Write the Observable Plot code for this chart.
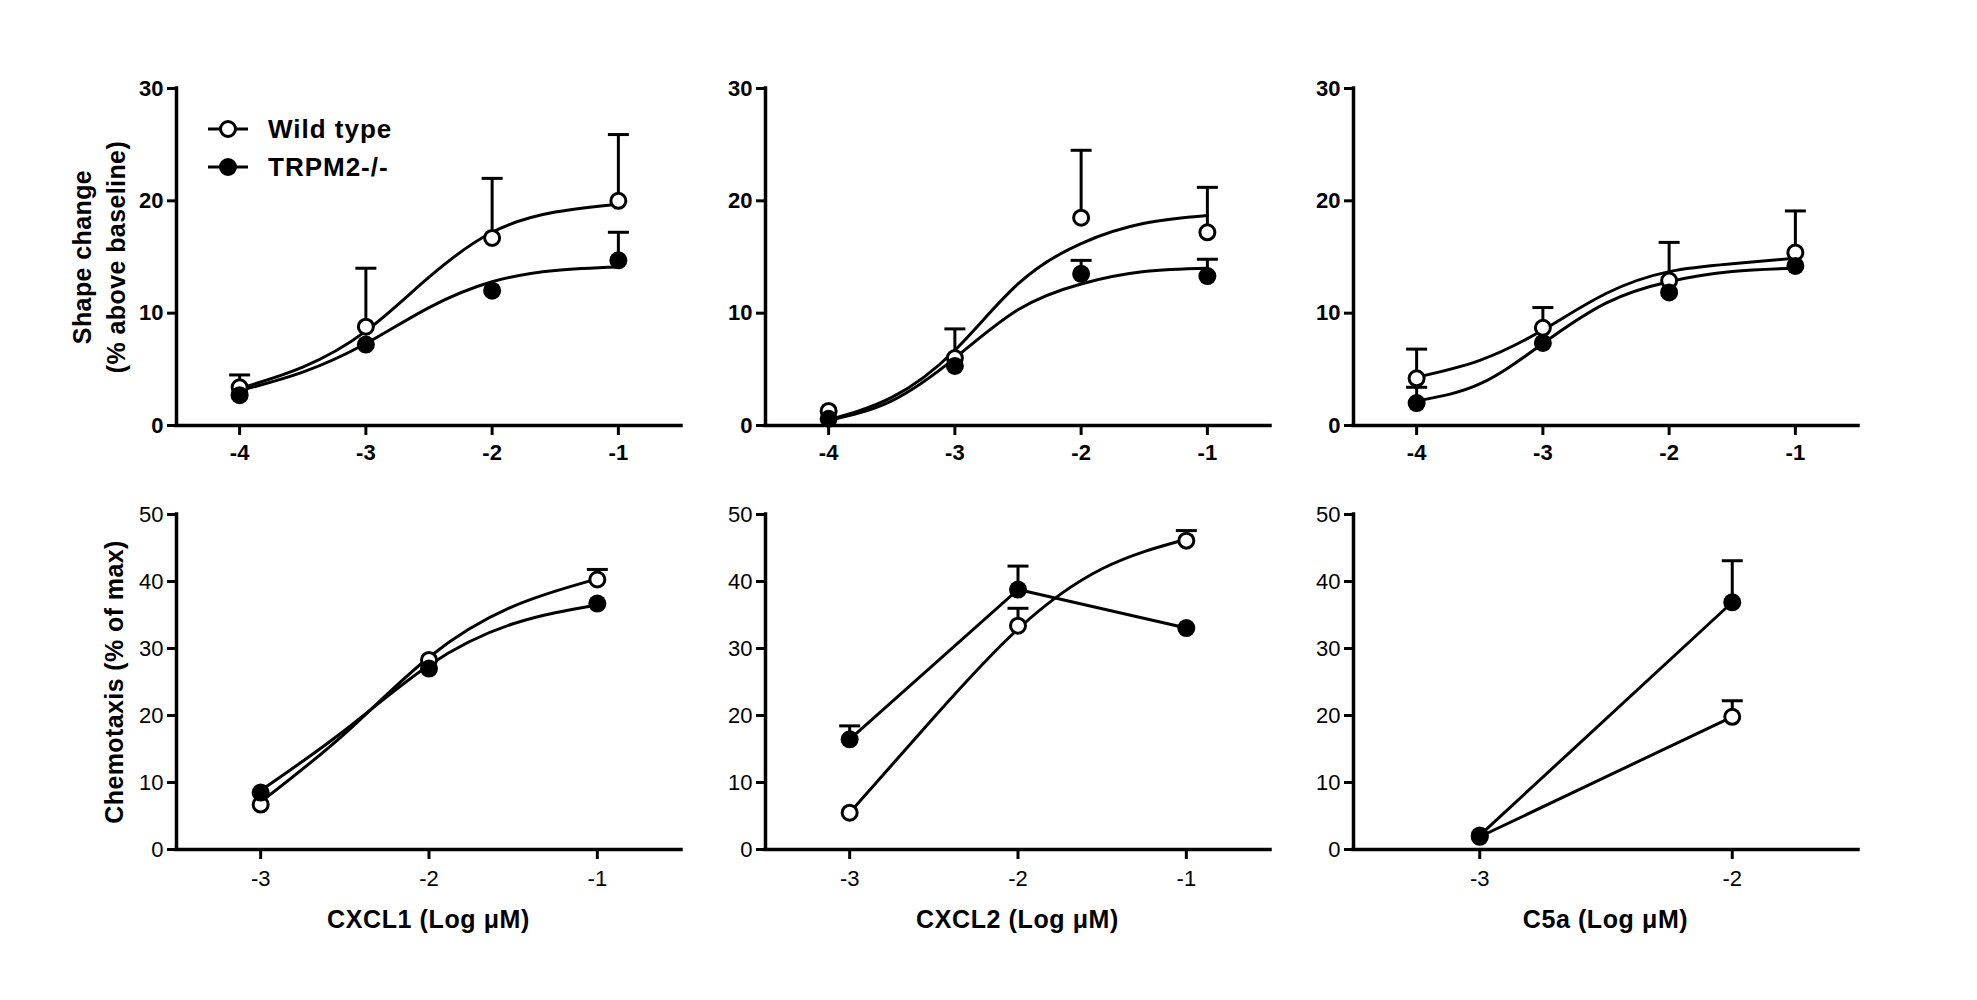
<!DOCTYPE html>
<html>
<head>
<meta charset="utf-8">
<script src="https://cdn.jsdelivr.net/npm/d3@7"></script>
<script src="https://cdn.jsdelivr.net/npm/@observablehq/plot@0.6"></script>
<style>
  html, body { margin: 0; padding: 0; background: white; }
  #page { position: relative; width: 1977px; height: 1000px; font-family: "Liberation Sans", Arial, sans-serif; color: black; overflow: hidden; }
  .panel { position: absolute; }
  .ytitle { position: absolute; transform: translate(-50%, -50%) rotate(-90deg); white-space: nowrap; text-align: center; font-weight: bold; font-size: 25px; line-height: 34px; letter-spacing: 0.4px; }
  .xtitle { position: absolute; transform: translate(-50%, -50%); white-space: nowrap; font-weight: bold; font-size: 25px; letter-spacing: 0.6px; }
  .legrow { position: absolute; display: flex; align-items: center; font-weight: bold; font-size: 26px; letter-spacing: 1px; white-space: nowrap; }
</style>
</head>
<body>
<div id="page"></div>
<script>
// ---------- data ----------
const agonists = ["CXCL1", "CXCL2", "C5a"];
const xTitles = ["CXCL1 (Log μM)", "CXCL2 (Log μM)", "C5a (Log μM)"];
const seriesNames = ["Wild type", "TRPM2-/-"];
const topYTitle = ["Shape change", "(% above baseline)"];
const bottomYTitle = "Chemotaxis (% of max)";

// Shape change (top row)
const shapeDose = [-4, -3, -2, -1];
const shapeTicksX = [-4, -3, -2, -1];
const shapeTicksY = [0, 10, 20, 30];
const shapeCurveX = [-4, -3.5, -3, -2.5, -2, -1.5, -1];

const shapeWtCxcl1 = [3.4, 8.8, 16.7, 20.0];
const shapeWtCxcl1Sem = [1.1, 5.2, 5.3, 5.9];
const shapeKoCxcl1 = [2.7, 7.2, 12.0, 14.7];
const shapeKoCxcl1Sem = [null, null, null, 2.5];
const shapeWtCxcl1Fit = [3.3, 5.2, 8.4, 13.2, 17.2, 19.0, 19.7];
const shapeKoCxcl1Fit = [3.1, 4.75, 7.3, 10.5, 12.8, 13.8, 14.1];

const shapeWtCxcl2 = [1.3, 6.0, 18.5, 17.2];
const shapeWtCxcl2Sem = [null, 2.6, 6.0, 4.0];
const shapeKoCxcl2 = [0.6, 5.3, 13.5, 13.3];
const shapeKoCxcl2Sem = [null, null, 1.2, 1.5];
const shapeWtCxcl2Fit = [0.5, 2.5, 6.7, 12.6, 16.2, 18.0, 18.7];
const shapeKoCxcl2Fit = [0.45, 2.2, 6.0, 10.3, 12.6, 13.7, 14.0];

const shapeWtC5a = [4.2, 8.7, 12.9, 15.4];
const shapeWtC5aSem = [2.6, 1.8, 3.4, 3.7];
const shapeKoC5a = [2.0, 7.35, 11.85, 14.2];
const shapeKoC5aSem = [1.4, null, null, null];
const shapeWtC5aFit = [4.3, 5.8, 8.5, 11.75, 13.7, 14.4, 14.9];
const shapeKoC5aFit = [2.2, 3.7, 7.3, 10.9, 12.8, 13.7, 14.0];

// Chemotaxis (bottom row)
const chemoTicksY = [0, 10, 20, 30, 40, 50];
const chemoDose = [-3, -2, -1];
const chemoCurveX = [-3, -2.5, -2, -1.5, -1];

const chemoWtCxcl1 = [6.7, 28.3, 40.3];
const chemoWtCxcl1Sem = [null, null, 1.5];
const chemoKoCxcl1 = [8.5, 27.0, 36.7];
const chemoKoCxcl1Sem = [null, null, null];
const chemoWtCxcl1Fit = [7.1, 17.3, 28.7, 36.3, 40.4];
const chemoKoCxcl1Fit = [8.8, 17.8, 27.5, 33.7, 36.5];

const chemoWtCxcl2 = [5.5, 33.4, 46.1];
const chemoWtCxcl2Sem = [null, 2.6, 1.5];
const chemoKoCxcl2 = [16.45, 38.8, 33.05];
const chemoKoCxcl2Sem = [2.0, 3.5, null];
const chemoWtCxcl2Fit = [5.5, 19.7, 32.9, 41.9, 46.3];

const chemoDoseC5a = [-3, -2];
const chemoWtC5a = [1.9, 19.8];
const chemoWtC5aSem = [null, 2.4];
const chemoKoC5a = [2.1, 36.9];
const chemoKoC5aSem = [null, 6.2];

// ---------- layout ----------
const colLeft = [176, 765, 1353];
const plotW = 505;
const rowTop = [88, 514];
const rowH = [337, 335];
const ML = 70, MR = 14, MT = 20, MB = 60;
const FONT = "'Liberation Sans', Arial, sans-serif";

const page = document.getElementById("page");

const capSymbol = {
  draw(context, size) {
    const w = Math.sqrt(size / Math.PI);
    context.moveTo(-w, 0);
    context.lineTo(w, 0);
  }
};

function rows(xs, ys) { return xs.map((x, i) => ({x, y: ys[i]})); }
function errRows(xs, ys, sems) {
  return xs.map((x, i) => ({x, y: ys[i], top: sems[i] == null ? NaN : ys[i] + sems[i]}))
           .filter(d => !isNaN(d.top));
}

function makePanel(cfg) {
  const wtPts = rows(cfg.dose, cfg.wt);
  const koPts = rows(cfg.dose, cfg.ko);
  const wtErr = errRows(cfg.dose, cfg.wt, cfg.wtSem);
  const koErr = errRows(cfg.dose, cfg.ko, cfg.koSem);
  const wtLine = cfg.wtFitX ? rows(cfg.wtFitX, cfg.wtFit) : wtPts;
  const koLine = cfg.koFitX ? rows(cfg.koFitX, cfg.koFit) : koPts;
  const weight = cfg.bold ? "bold" : "normal";
  const chart = Plot.plot({
    width: ML + plotW + MR,
    height: MT + cfg.h + MB,
    marginLeft: ML, marginRight: MR, marginTop: MT, marginBottom: MB,
    x: {domain: cfg.xDomain},
    y: {domain: cfg.yDomain},
    style: {fontFamily: FONT, color: "black", background: "transparent", overflow: "visible"},
    marks: [
      Plot.axisX({ticks: cfg.xTicks, tickSize: 10, tickPadding: cfg.bold ? 9 : 11, strokeWidth: 3,
                  fontSize: 22, fontWeight: weight, fontFamily: FONT, tickFormat: d => String(d), label: null}),
      Plot.axisY({ticks: cfg.yTicks, tickSize: 9, tickPadding: 4, strokeWidth: 3,
                  fontSize: 22, fontWeight: weight, fontFamily: FONT, tickFormat: d => String(d), label: null}),
      Plot.ruleY([cfg.yDomain[0]], {stroke: "black", strokeWidth: 3.5, strokeLinecap: "square"}),
      Plot.ruleX([cfg.xDomain[0]], {stroke: "black", strokeWidth: 3.5, strokeLinecap: "square"}),
      Plot.line(wtLine, {x: "x", y: "y", curve: cfg.wtFitX ? "natural" : "linear", stroke: "black", strokeWidth: 3}),
      Plot.line(koLine, {x: "x", y: "y", curve: cfg.koFitX ? "natural" : "linear", stroke: "black", strokeWidth: 3}),
      Plot.ruleX(wtErr, {x: "x", y1: "y", y2: "top", stroke: "black", strokeWidth: 3}),
      Plot.dot(wtErr, {x: "x", y: "top", symbol: capSymbol, r: 10.5, fill: "none", stroke: "black", strokeWidth: 3}),
      Plot.ruleX(koErr, {x: "x", y1: "y", y2: "top", stroke: "black", strokeWidth: 3}),
      Plot.dot(koErr, {x: "x", y: "top", symbol: capSymbol, r: 10.5, fill: "none", stroke: "black", strokeWidth: 3}),
      Plot.dot(wtPts, {x: "x", y: "y", r: 7.5, fill: "white", stroke: "black", strokeWidth: 3}),
      Plot.dot(koPts, {x: "x", y: "y", r: 9, fill: "black", stroke: "none"})
    ]
  });
  const holder = document.createElement("div");
  holder.className = "panel";
  holder.style.left = (cfg.left - ML) + "px";
  holder.style.top = (cfg.top - MT) + "px";
  holder.appendChild(chart);
  page.appendChild(holder);
}

const shapeSets = [
  [shapeWtCxcl1, shapeWtCxcl1Sem, shapeKoCxcl1, shapeKoCxcl1Sem, shapeWtCxcl1Fit, shapeKoCxcl1Fit],
  [shapeWtCxcl2, shapeWtCxcl2Sem, shapeKoCxcl2, shapeKoCxcl2Sem, shapeWtCxcl2Fit, shapeKoCxcl2Fit],
  [shapeWtC5a, shapeWtC5aSem, shapeKoC5a, shapeKoC5aSem, shapeWtC5aFit, shapeKoC5aFit]
];
shapeSets.forEach((s, i) => makePanel({
  left: colLeft[i], top: rowTop[0], h: rowH[0], bold: true,
  xDomain: [-4.5, -0.5], yDomain: [0, 30], xTicks: shapeTicksX, yTicks: shapeTicksY,
  dose: shapeDose, wt: s[0], wtSem: s[1], ko: s[2], koSem: s[3],
  wtFitX: shapeCurveX, wtFit: s[4], koFitX: shapeCurveX, koFit: s[5]
}));

makePanel({
  left: colLeft[0], top: rowTop[1], h: rowH[1], bold: false,
  xDomain: [-3.5, -0.5], yDomain: [0, 50], xTicks: chemoDose, yTicks: chemoTicksY,
  dose: chemoDose, wt: chemoWtCxcl1, wtSem: chemoWtCxcl1Sem, ko: chemoKoCxcl1, koSem: chemoKoCxcl1Sem,
  wtFitX: chemoCurveX, wtFit: chemoWtCxcl1Fit, koFitX: chemoCurveX, koFit: chemoKoCxcl1Fit
});
makePanel({
  left: colLeft[1], top: rowTop[1], h: rowH[1], bold: false,
  xDomain: [-3.5, -0.5], yDomain: [0, 50], xTicks: chemoDose, yTicks: chemoTicksY,
  dose: chemoDose, wt: chemoWtCxcl2, wtSem: chemoWtCxcl2Sem, ko: chemoKoCxcl2, koSem: chemoKoCxcl2Sem,
  wtFitX: chemoCurveX, wtFit: chemoWtCxcl2Fit
});
makePanel({
  left: colLeft[2], top: rowTop[1], h: rowH[1], bold: false,
  xDomain: [-3.5, -1.5], yDomain: [0, 50], xTicks: chemoDoseC5a, yTicks: chemoTicksY,
  dose: chemoDoseC5a, wt: chemoWtC5a, wtSem: chemoWtC5aSem, ko: chemoKoC5a, koSem: chemoKoC5aSem
});

// ---------- titles ----------
function addDiv(cls, html, left, top) {
  const d = document.createElement("div");
  d.className = cls;
  d.innerHTML = html;
  d.style.left = left + "px";
  d.style.top = top + "px";
  page.appendChild(d);
  return d;
}
addDiv("ytitle", topYTitle.join("<br>"), 99, rowTop[0] + rowH[0] / 2);
addDiv("ytitle", bottomYTitle, 114, rowTop[1] + rowH[1] / 2);
xTitles.forEach((t, i) => addDiv("xtitle", t, colLeft[i] + plotW / 2, 919));

// ---------- legend ----------
const legendY = [129, 167];
seriesNames.forEach((name, i) => {
  const sym = i === 0
    ? '<circle cx="21" cy="14" r="7.5" fill="white" stroke="black" stroke-width="3"/>'
    : '<circle cx="21" cy="14" r="9" fill="black"/>';
  const row = addDiv("legrow",
    '<svg width="42" height="28" style="display:block"><line x1="1" y1="14" x2="41" y2="14" stroke="black" stroke-width="3"/>' + sym + '</svg>' +
    '<span style="margin-left:19px">' + name + '</span>', 207, legendY[i] - 14);
  row.style.height = "28px";
});
</script>
</body>
</html>
